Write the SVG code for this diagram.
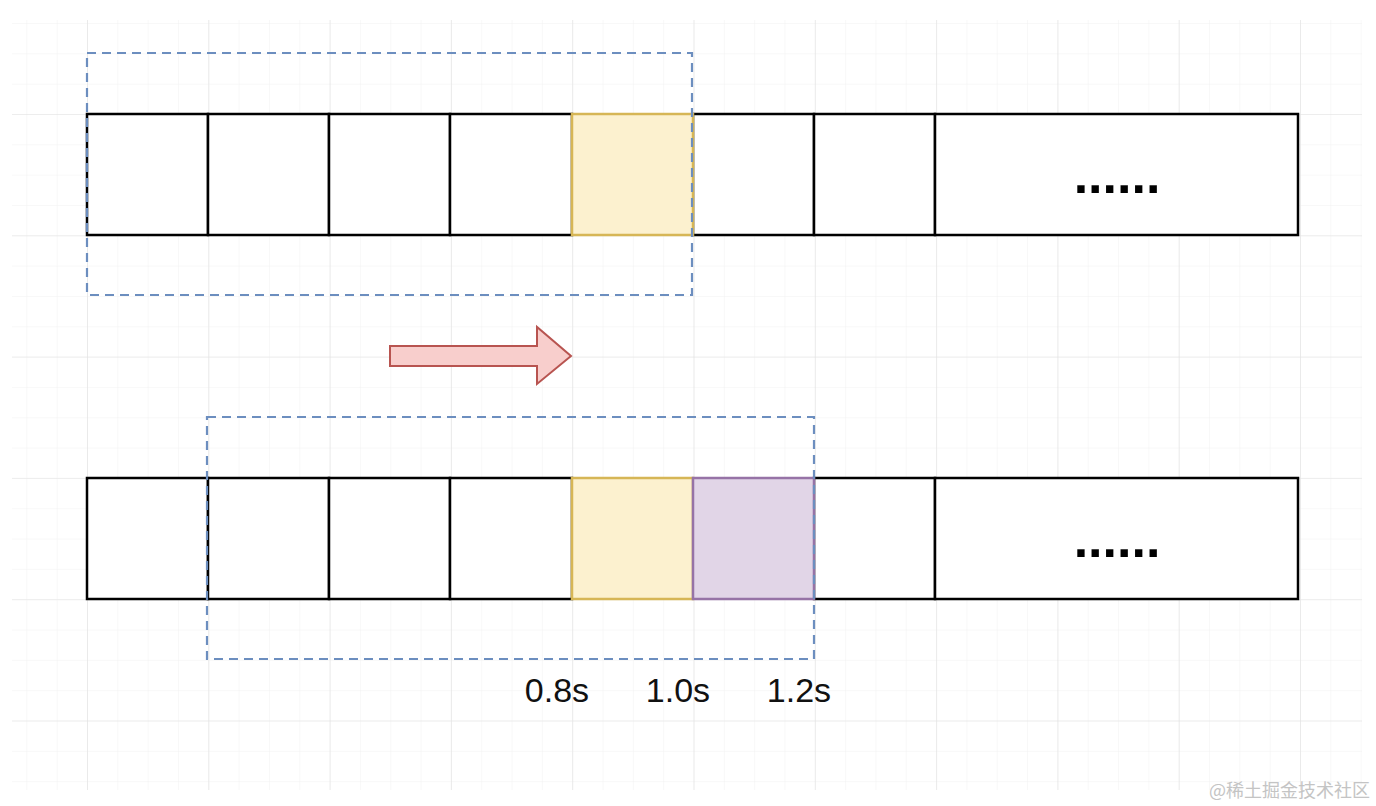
<svg xmlns="http://www.w3.org/2000/svg" width="1376" height="806" viewBox="0 0 1376 806">
<defs>
<pattern id="minor" x="87" y="114" width="30.325" height="30.325" patternUnits="userSpaceOnUse">
<path d="M0 0H30.325M0 0V30.325" fill="none" stroke="#f1f1f1" stroke-width="1"/>
</pattern>
<pattern id="major" x="87" y="114" width="121.3" height="121.3" patternUnits="userSpaceOnUse">
<path d="M0 0H121.3M0 0V121.3" fill="none" stroke="#e2e2e2" stroke-width="1.2"/>
</pattern>
</defs>
<style>
.cell{fill:#ffffff;stroke:#000000;stroke-width:2.5}
.yellow{fill:#fcf1cf;stroke:#d6b656;stroke-width:2.5}
.purple{fill:#e1d5e7;stroke:#9673a6;stroke-width:2.5}
.win{fill:none;stroke:#6c8ebf;stroke-width:2.2;stroke-dasharray:9 6}
.lbl{font-family:"Liberation Sans",Arial,sans-serif;font-size:34px;fill:#111111;text-anchor:middle}
.dots{font-family:"Liberation Sans",Arial,sans-serif;font-size:52px;font-weight:bold;fill:#000000;text-anchor:middle}
</style>
<rect width="1376" height="806" fill="#ffffff"/>
<rect x="12" y="20" width="1350" height="770" fill="url(#minor)"/>
<rect x="12" y="20" width="1350" height="770" fill="url(#major)"/>
<g id="row1">
<rect class="cell" x="87" y="114" width="121" height="121"/>
<rect class="cell" x="208" y="114" width="121" height="121"/>
<rect class="cell" x="329" y="114" width="121" height="121"/>
<rect class="cell" x="450" y="114" width="122" height="121"/>
<rect class="cell" x="693" y="114" width="121" height="121"/>
<rect class="cell" x="814" y="114" width="121" height="121"/>
<rect class="cell" x="935" y="114" width="363" height="121"/>
<rect class="yellow" x="572" y="114" width="121" height="121"/>
<text class="dots" x="1117" y="193">......</text>
</g>
<g id="row2">
<rect class="cell" x="87" y="478" width="121" height="121"/>
<rect class="cell" x="208" y="478" width="121" height="121"/>
<rect class="cell" x="329" y="478" width="121" height="121"/>
<rect class="cell" x="450" y="478" width="122" height="121"/>
<rect class="cell" x="814" y="478" width="121" height="121"/>
<rect class="cell" x="935" y="478" width="363" height="121"/>
<rect class="yellow" x="572" y="478" width="121" height="121"/>
<rect class="purple" x="693" y="478" width="121" height="121"/>
<text class="dots" x="1117" y="557">......</text>
</g>
<g id="window1"><rect class="win" x="87" y="53" width="605" height="242"/></g>
<g id="window2"><rect class="win" x="207" y="417" width="607" height="242"/></g>
<g id="connectors">
<path d="M390 346H537V327L571 356L537 384V366H390Z" fill="#f8cecc" stroke="#b85450" stroke-width="2" stroke-linejoin="miter"/>
</g>
<g id="labels">
<text class="lbl" x="557" y="702">0.8s</text>
<text class="lbl" x="678" y="702">1.0s</text>
<text class="lbl" x="799" y="702">1.2s</text>
</g>
<text x="1370" y="797" font-family="'Noto Sans CJK SC',sans-serif" font-size="18" fill="#c4c4c4" text-anchor="end">@稀土掘金技术社区</text>
</svg>
